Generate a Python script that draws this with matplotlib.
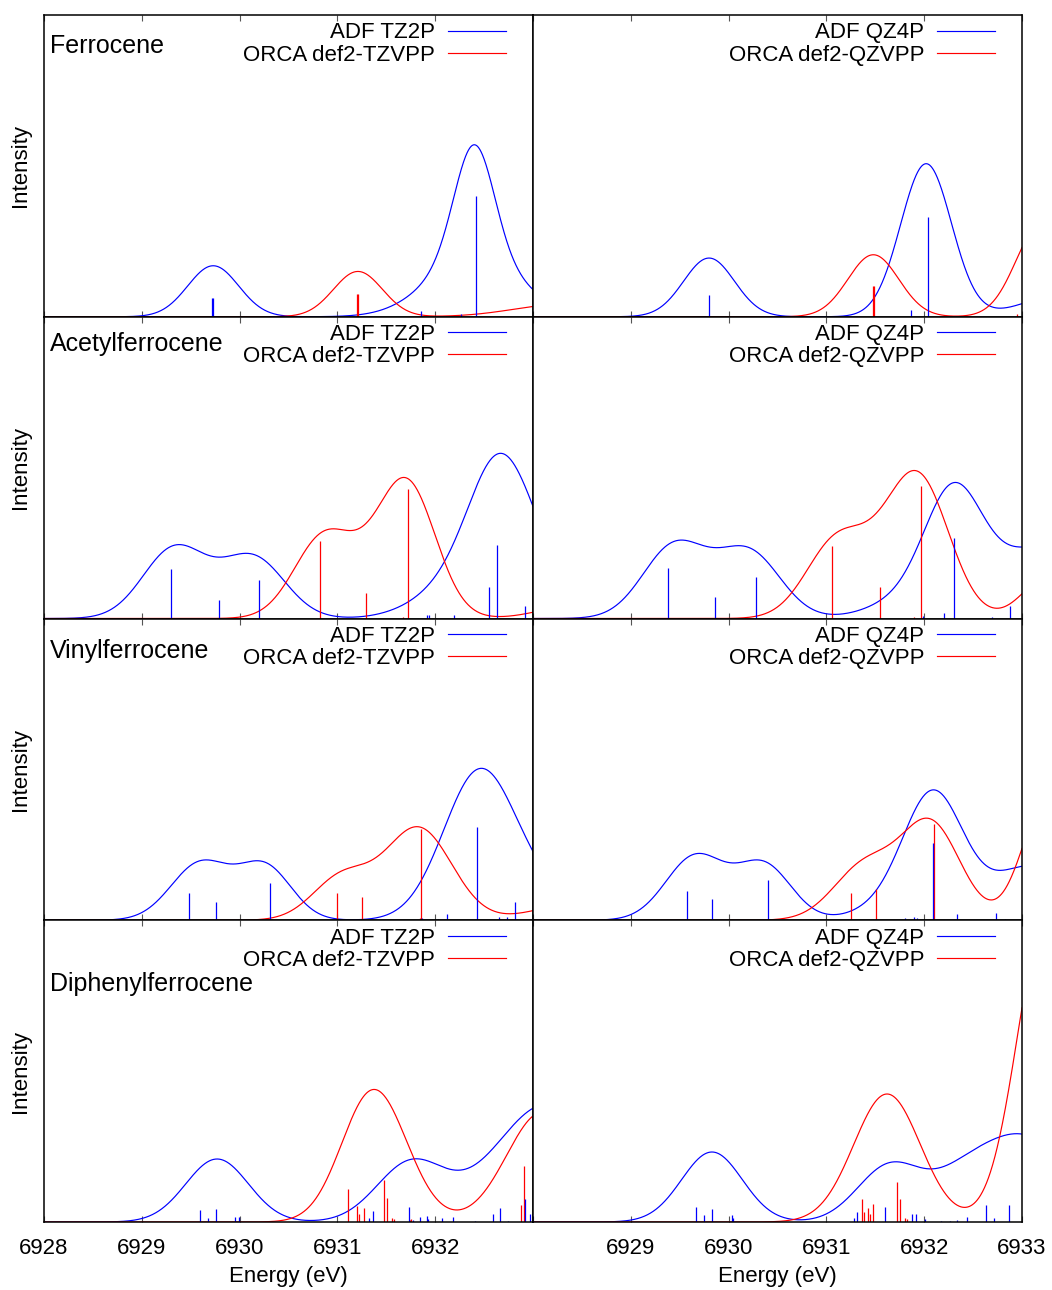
import numpy as np
import matplotlib
matplotlib.use('Agg')
import matplotlib.pyplot as plt

plt.rcParams['font.family'] = ['Liberation Sans', 'DejaVu Sans']

# energy window shared by all panels (eV)
e_min, e_max = 6928.0, 6933.0
energy = np.linspace(e_min, e_max, 1501)
tick_pos = [6928, 6929, 6930, 6931, 6932, 6933]
left_ticklabels = ['6928', '6929', '6930', '6931', '6932', '']
right_ticklabels = ['', '6929', '6930', '6931', '6932', '6933']

molecules = ['Ferrocene', 'Acetylferrocene', 'Vinylferrocene', 'Diphenylferrocene']
tz_labels = ['ADF TZ2P', 'ORCA def2-TZVPP']
qz_labels = ['ADF QZ4P', 'ORCA def2-QZVPP']

# ---- stick transitions (energy, intensity) and broadened bands (centre, height, width)
# Ferrocene
fc_tz_adf_e = [6929.72, 6929.73, 6931.85, 6932.26, 6932.42]
fc_tz_adf_i = [19, 19, 6, 2.7, 121]
fc_tz_orca_e = [6931.20, 6931.21]
fc_tz_orca_i = [22.7, 22.7]
fc_tz_adf_bands = [(6929.73, 51, .26), (6932.40, 109, .2), (6932.40, 63, .45)]
fc_tz_orca_bands = [(6931.21, 45.3, .25), (6933.3, 12.3, .5)]

fc_qz_adf_e = [6929.80, 6931.86, 6932.04]
fc_qz_adf_i = [21.7, 6.3, 100]
fc_qz_orca_e = [6931.48, 6931.49, 6932.95]
fc_qz_orca_i = [30.3, 30.3, 3]
fc_qz_adf_bands = [(6929.80, 58.7, .26), (6932.02, 153, .26), (6933.4, 21.4, .4)]
fc_qz_orca_bands = [(6931.48, 62, .26), (6933.2, 93, .26)]

# Acetylferrocene
acfc_tz_adf_e = [6929.30, 6929.79, 6930.20, 6931.92, 6931.94, 6932.19, 6932.55, 6932.63, 6932.92]
acfc_tz_adf_i = [49.3, 18.7, 38.3, 3.7, 3.7, 3.7, 32, 73.7, 12.3]
acfc_tz_orca_e = [6930.82, 6931.29, 6931.67, 6931.72]
acfc_tz_orca_i = [77.7, 26, 1.5, 129.3]
acfc_tz_adf_bands = [(6929.33, 69, .32), (6929.80, 6, .32), (6930.15, 58, .32),
                     (6931.75, 6, .3), (6932.15, 25, .3), (6932.62, 133, .3), (6933.0, 52, .3)]
acfc_tz_orca_bands = [(6930.85, 78, .3), (6931.30, 25, .29), (6931.72, 130, .29), (6933.4, 12, .35)]

acfc_qz_adf_e = [6929.38, 6929.86, 6930.28, 6931.99, 6932.20, 6932.30, 6932.69, 6932.88]
acfc_qz_adf_i = [50.3, 21.3, 41.3, 3, 6, 81, 2, 12.7]
acfc_qz_orca_e = [6931.06, 6931.55, 6931.90, 6931.97]
acfc_qz_orca_i = [73, 31.7, 1.3, 133]
acfc_qz_adf_bands = [(6929.44, 71, .32), (6929.90, 8, .32), (6930.22, 62, .32),
                     (6931.75, 15, .35), (6932.30, 122, .3), (6933.2, 70, .45)]
acfc_qz_orca_bands = [(6931.10, 75, .31), (6931.55, 25, .29), (6931.95, 135, .31), (6933.25, 40, .25)]

# Vinylferrocene
vfc_tz_adf_e = [6929.48, 6929.76, 6930.31, 6931.87, 6932.03, 6932.12, 6932.43, 6932.65, 6932.73, 6932.82]
vfc_tz_adf_i = [27.7, 18.3, 37.7, 2.3, 1, 6.7, 93.3, 3, 3, 18.3]
vfc_tz_orca_e = [6931.00, 6931.25, 6931.84, 6931.85]
vfc_tz_orca_i = [27.7, 23.3, 2, 91.7]
vfc_tz_adf_bands = [(6929.60, 57, .3), (6930.26, 53, .27), (6932.46, 150, .37), (6933.1, 18, .3)]
vfc_tz_orca_bands = [(6931.05, 43, .3), (6931.83, 92, .34), (6933.4, 15.5, .4)]

vfc_qz_adf_e = [6929.57, 6929.83, 6930.40, 6931.80, 6931.90, 6931.93, 6932.09, 6932.34, 6932.73, 6932.83]
vfc_qz_adf_i = [29.3, 21, 40, 2, 3.7, 2, 77.7, 6, 7, 1.5]
vfc_qz_orca_e = [6931.25, 6931.51, 6932.10]
vfc_qz_orca_i = [27.7, 31.7, 96]
vfc_qz_adf_bands = [(6929.66, 64, .3), (6930.36, 55, .28), (6931.50, 8, .3),
                    (6932.09, 127, .31), (6933.1, 54, .4)]
vfc_qz_orca_bands = [(6931.40, 55, .32), (6932.07, 95, .3), (6933.26, 122, .25)]

# Diphenylferrocene
dpfc_tz_adf_e = [6929.60, 6929.68, 6929.76, 6929.95, 6929.99, 6931.32, 6931.36, 6931.73, 6931.77,
                 6931.84, 6931.92, 6931.93, 6932.07, 6932.18, 6932.41, 6932.59, 6932.66, 6932.74,
                 6932.92, 6932.97]
dpfc_tz_adf_i = [12, 4, 12.7, 5.3, 4.7, 3.7, 11.3, 15, 2, 4.7, 6, 3, 3.7, 5, 1.3, 7.7, 14, 1, 22.7, 7.7]
dpfc_tz_orca_e = [6931.11, 6931.20, 6931.22, 6931.27, 6931.48, 6931.51, 6931.56, 6931.58,
                  6931.74, 6931.75, 6932.88, 6932.91]
dpfc_tz_orca_i = [33.3, 16, 8.3, 14, 41.7, 23.7, 4.3, 3.3, 2, 3, 16.7, 56.3]
dpfc_tz_adf_bands = [(6929.77, 63, .32), (6931.75, 58, .35), (6933.15, 118, .55)]
dpfc_tz_orca_bands = [(6931.30, 100, .3), (6931.58, 45, .3), (6933.1, 110, .37)]

dpfc_qz_adf_e = [6929.67, 6929.75, 6929.83, 6930.03, 6930.05, 6931.28, 6931.31, 6931.60, 6931.88,
                 6931.92, 6932.01, 6932.17, 6932.26, 6932.34, 6932.44, 6932.63, 6932.71, 6932.87]
dpfc_qz_adf_i = [15, 6.7, 13.3, 7.3, 4, 4, 10, 15, 8.3, 8.3, 3, 1, 1.3, 2, 4.7, 16.7, 4.3, 16.7]
dpfc_qz_orca_e = [6931.36, 6931.38, 6931.43, 6931.45, 6931.48, 6931.72, 6931.75, 6931.80, 6931.82]
dpfc_qz_orca_i = [22.7, 10, 13.7, 8, 17.7, 40.3, 22.7, 4, 3]
dpfc_qz_adf_bands = [(6929.83, 70, .31), (6931.65, 56, .33), (6932.35, 20, .3), (6933.0, 86, .5)]
dpfc_qz_orca_bands = [(6931.62, 128, .34), (6933.25, 303, .3)]

tz_panels = [
    (fc_tz_adf_e, fc_tz_adf_i, fc_tz_orca_e, fc_tz_orca_i, fc_tz_adf_bands, fc_tz_orca_bands),
    (acfc_tz_adf_e, acfc_tz_adf_i, acfc_tz_orca_e, acfc_tz_orca_i, acfc_tz_adf_bands, acfc_tz_orca_bands),
    (vfc_tz_adf_e, vfc_tz_adf_i, vfc_tz_orca_e, vfc_tz_orca_i, vfc_tz_adf_bands, vfc_tz_orca_bands),
    (dpfc_tz_adf_e, dpfc_tz_adf_i, dpfc_tz_orca_e, dpfc_tz_orca_i, dpfc_tz_adf_bands, dpfc_tz_orca_bands),
]
qz_panels = [
    (fc_qz_adf_e, fc_qz_adf_i, fc_qz_orca_e, fc_qz_orca_i, fc_qz_adf_bands, fc_qz_orca_bands),
    (acfc_qz_adf_e, acfc_qz_adf_i, acfc_qz_orca_e, acfc_qz_orca_i, acfc_qz_adf_bands, acfc_qz_orca_bands),
    (vfc_qz_adf_e, vfc_qz_adf_i, vfc_qz_orca_e, vfc_qz_orca_i, vfc_qz_adf_bands, vfc_qz_orca_bands),
    (dpfc_qz_adf_e, dpfc_qz_adf_i, dpfc_qz_orca_e, dpfc_qz_orca_i, dpfc_qz_adf_bands, dpfc_qz_orca_bands),
]

# where the compound name sits in each row (axes fraction, baseline)
name_y = [0.875, 0.885, 0.868, 0.7645]


def broaden(bands):
    y = np.zeros_like(energy)
    for c, h, w in bands:
        y += h * np.exp(-(energy - c) ** 2 / (2 * w ** 2))
    return y


def draw_panel(ax, data, labels):
    adf_e, adf_i, orca_e, orca_i, adf_bands, orca_bands = data
    ax.plot(energy, broaden(adf_bands), color='#0000ff', lw=0.85)
    ax.plot(energy, broaden(orca_bands), color='#ff0000', lw=0.85)
    ax.vlines(orca_e, 0, orca_i, color='#ff0000', lw=0.9)
    ax.vlines(adf_e, 0, adf_i, color='#0000ff', lw=0.9)

    # key, text on the left of the sample line
    for k, (lab, col) in enumerate(zip(labels, ['#0000ff', '#ff0000'])):
        ax.text(0.7996, 0.9228 - k * 0.0742, lab, transform=ax.transAxes,
                ha='right', va='baseline', fontsize=16)
        ax.plot([0.8262, 0.9448], [0.948 - k * 0.0729] * 2, transform=ax.transAxes,
                color=col, lw=0.85)

    ax.set_xlim(e_min, e_max)
    ax.set_ylim(0, 301.75)
    ax.set_yticks([])
    ax.set_xticks(tick_pos)
    ax.tick_params(axis='x', direction='in', top=True, length=4, width=0.8,
                   color='#555555', labelsize=16, pad=11.3)
    for s in ax.spines.values():
        s.set_linewidth(1.1)
        s.set_color('black')


fig = plt.figure(figsize=(10.52, 12.90), dpi=100)
W, H = 1052.0, 1290.0
col_x = [44, 533]
col_w = 489
row_h = 301.75

for r in range(4):
    top = 15 + r * row_h
    for c, (panels, labels) in enumerate([(tz_panels, tz_labels), (qz_panels, qz_labels)]):
        ax = fig.add_axes([col_x[c] / W, 1 - (top + row_h) / H, col_w / W, row_h / H])
        draw_panel(ax, panels[r], labels)
        if c == 0:
            ax.text(0.0123, name_y[r], molecules[r], transform=ax.transAxes,
                    ha='left', va='baseline', fontsize=18)
            ax.set_ylabel('Intensity', fontsize=16)
            ax.yaxis.set_label_coords(-0.026, 0.5)
        if r == 3:
            ax.set_xticklabels(left_ticklabels if c == 0 else right_ticklabels)
            ax.set_xlabel('Energy (eV)', fontsize=16, labelpad=5.5)
        else:
            ax.tick_params(axis='x', labelbottom=False)

fig.savefig('out.png', dpi=100)
